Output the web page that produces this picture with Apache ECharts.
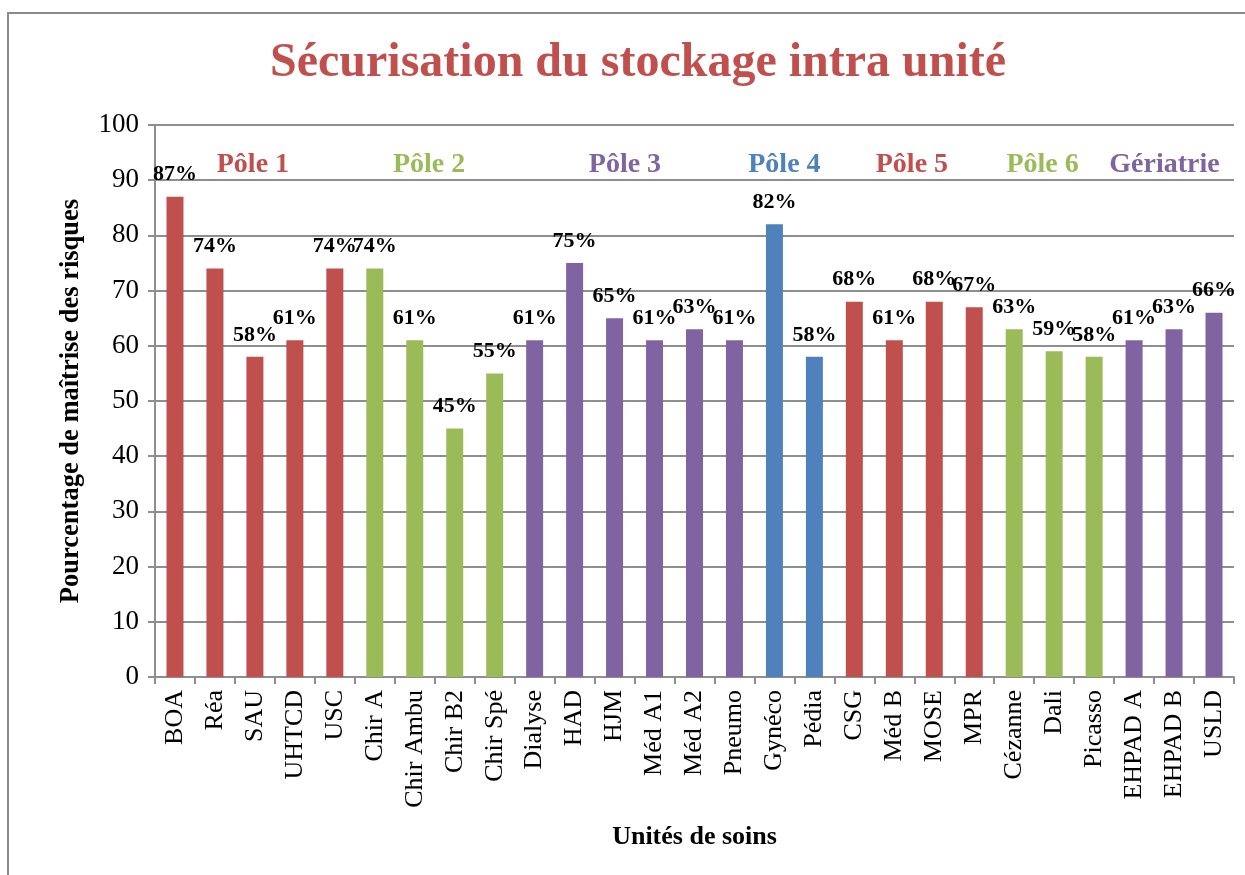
<!DOCTYPE html>
<html>
<head>
<meta charset="utf-8">
<title>Sécurisation du stockage intra unité</title>
<script src="https://cdn.jsdelivr.net/npm/echarts@6/dist/echarts.min.js"></script>
<style>
  html, body { margin: 0; padding: 0; background: #fff; }
  #chart { width: 1245px; height: 875px; }
</style>
</head>
<body>
<div id="chart"></div>
<script>
// unités de soins
var units = ['BOA', 'Réa', 'SAU', 'UHTCD', 'USC',
  'Chir A', 'Chir Ambu', 'Chir B2', 'Chir Spé',
  'Dialyse', 'HAD', 'HJM', 'Méd A1', 'Méd A2', 'Pneumo',
  'Gynéco', 'Pédia',
  'CSG', 'Méd B', 'MOSE', 'MPR',
  'Cézanne', 'Dali', 'Picasso',
  'EHPAD A', 'EHPAD B', 'USLD'];
// pourcentage de maîtrise
var scores = [87, 74, 58, 61, 74,
  74, 61, 45, 55,
  61, 75, 65, 61, 63, 61,
  82, 58,
  68, 61, 68, 67,
  63, 59, 58,
  61, 63, 66];
// pôle de chaque unité (index dans poleNames)
var unitPole = [0, 0, 0, 0, 0,
  1, 1, 1, 1,
  2, 2, 2, 2, 2, 2,
  3, 3,
  4, 4, 4, 4,
  5, 5, 5,
  6, 6, 6];
var poleNames = ['Pôle 1', 'Pôle 2', 'Pôle 3', 'Pôle 4', 'Pôle 5', 'Pôle 6', 'Gériatrie'];
var yTicks = [0, 10, 20, 30, 40, 50, 60, 70, 80, 90, 100];

// styles
var poleColors = ['#C0504D', '#9BBB59', '#8064A2', '#4F81BD', '#C0504D', '#9BBB59', '#8064A2'];
// position des titres de pôle (en unités de catégorie) et hauteur
var poleLabelX = [1.95, 6.36, 11.26, 15.25, 18.44, 21.71, 24.76];
var poleLabelY = 92.8;

var serif = '"Liberation Serif", "Times New Roman", serif';
var gridColor = '#8e8e8e';

var myChart = echarts.init(document.getElementById('chart'));

var option = {
  backgroundColor: '#fff',
  animation: false,
  graphic: [{
    type: 'rect',
    shape: { x: 8, y: 13, width: 1300, height: 900 },
    style: { fill: 'none', stroke: '#8a8a8a', lineWidth: 2 },
    z: -1
  }],
  title: {
    text: 'Sécurisation du stockage intra unité',
    left: 265,
    top: 35,
    textStyle: {
      fontFamily: serif,
      fontSize: 48,
      fontWeight: 'bold',
      color: '#C0504D'
    }
  },
  grid: {
    left: 155,
    right: 11,
    top: 125,
    bottom: 198,
    containLabel: false
  },
  xAxis: [{
    type: 'category',
    data: units,
    name: 'Unités de soins',
    nameLocation: 'middle',
    nameGap: 147,
    nameTextStyle: { fontFamily: serif, fontSize: 26, fontWeight: 'bold', color: '#000' },
    axisLine: { lineStyle: { color: gridColor, width: 2 } },
    axisTick: { show: true, alignWithLabel: false, length: 7, lineStyle: { color: gridColor, width: 2 } },
    axisLabel: {
      interval: 0,
      rotate: 90,
      margin: 13,
      fontFamily: serif,
      fontSize: 26,
      color: '#000'
    }
  }, {
    // axe caché pour placer les titres de pôle
    type: 'value',
    min: -0.5,
    max: units.length - 0.5,
    show: false
  }],
  yAxis: {
    type: 'value',
    min: yTicks[0],
    max: yTicks[yTicks.length - 1],
    interval: 10,
    name: 'Pourcentage de maîtrise des risques',
    nameLocation: 'middle',
    nameGap: 70,
    nameTextStyle: { fontFamily: serif, fontSize: 26.5, fontWeight: 'bold', color: '#000' },
    axisLine: { show: true, onZero: false, lineStyle: { color: gridColor, width: 2 } },
    axisTick: { show: true, length: 7, lineStyle: { color: gridColor, width: 2 } },
    axisLabel: { fontFamily: serif, fontSize: 27, color: '#000', margin: 16 },
    splitLine: { lineStyle: { color: gridColor, width: 2 } }
  },
  series: [{
    name: 'Maîtrise',
    type: 'bar',
    barWidth: 17,
    data: scores.map(function (v, i) {
      return { value: v, itemStyle: { color: poleColors[unitPole[i]] } };
    }),
    label: {
      show: true,
      position: 'top',
      distance: 11,
      formatter: '{c}%',
      fontFamily: serif,
      fontSize: 22,
      fontWeight: 'bold',
      color: '#000'
    }
  }, {
    name: 'Pôles',
    type: 'scatter',
    xAxisIndex: 1,
    symbolSize: 0,
    silent: true,
    itemStyle: { opacity: 1 },
    data: poleNames.map(function (n, i) {
      return {
        value: [poleLabelX[i], poleLabelY],
        name: n,
        label: { color: poleColors[i] }
      };
    }),
    label: {
      show: true,
      position: 'inside',
      formatter: '{b}',
      opacity: 1,
      fontFamily: serif,
      fontSize: 28,
      fontWeight: 'bold'
    }
  }]
};

myChart.setOption(option);
window.addEventListener('resize', function () {
  if (myChart) { myChart.resize(); }
});
</script>
</body>
</html>
